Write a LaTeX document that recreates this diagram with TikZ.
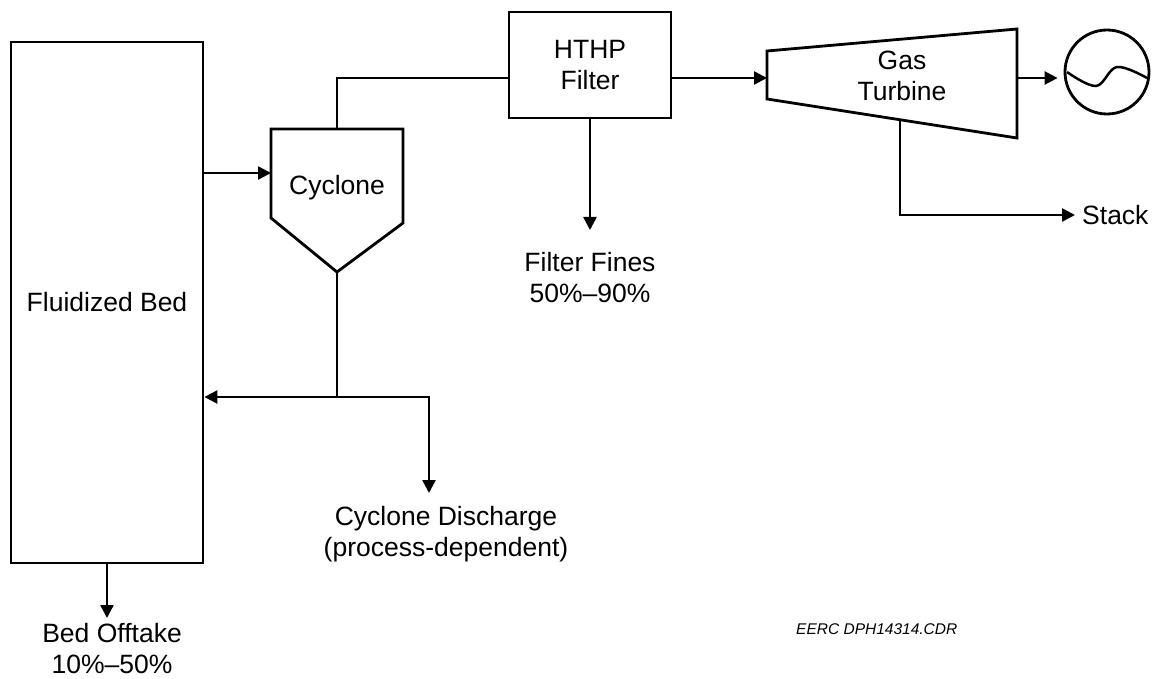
\documentclass[tikz,border=0pt]{standalone}
\usepackage{fontspec}
\setmainfont{Liberation Sans}
\usetikzlibrary{arrows.meta}

\begin{document}
\begin{tikzpicture}[x=1pt,y=-1pt,
    unit/.style={draw,line width=2.8pt,inner sep=0pt,align=center},
    flow/.style={line width=2.5pt,-{Triangle[length=13pt,width=13pt]}},
    pipe/.style={line width=2.5pt},
    lbl/.style={align=center,inner sep=0pt},
    font=\fontsize{26.5}{31}\selectfont]
  \useasboundingbox (0,0) rectangle (1154,679);
  % process units
  \node[unit,minimum width=192pt,minimum height=521pt] (bed) at (107,302.5) {Fluidized Bed};
  \node[unit,minimum width=162pt,minimum height=106pt] (filter) at (590,65) {HTHP\\Filter};
  \draw[line width=2.8pt] (271,129) -- (403,129) -- (403,223) -- (337,272) -- (271,218) -- cycle;
  \node[lbl] (cyclone) at (337,188) {Cyclone};
  \draw[line width=2.8pt] (767,51) -- (1017,29) -- (1017,138) -- (767,99) -- cycle;
  \node[lbl] (turbine) at (902,75.5) {Gas\\Turbine};
  \node[draw,circle,line width=2.8pt,minimum size=84pt,inner sep=0pt] (gen) at (1107,72) {};
  \draw[line width=2.5pt] plot[smooth,tension=0.6] coordinates {(1067,72) (1096,86) (1117,67) (1147,78)};

  \coordinate (cycin) at (271,173);
  \coordinate (cyctop) at (337,129);
  \coordinate (cycbot) at (337,272);
  \coordinate (split) at (337,397);
  \coordinate (disctip) at (429,493);
  \coordinate (turbin) at (767,78);
  \coordinate (turbout) at (1017,78);
  \coordinate (turbbot) at (900,120);
  \coordinate (finestip) at (590,230);
  \coordinate (offtip) at (107,618);

  % labels
  \node[lbl] (fines) at (590,277.5) {Filter Fines\\50\%--90\%};
  \node[lbl] (discharge) at (446,534) {Cyclone Discharge\\(process-dependent)};
  \node[lbl] (offtake) at (112,649) {Bed Offtake\\10\%--50\%};
  \node[lbl,anchor=west] (stack) at (1082,215) {Stack};
  \node[lbl,anchor=west,font=\fontsize{15.5}{18}\selectfont\itshape] (eerc) at (796,629) {EERC DPH14314.CDR};

  % streams
  \draw[flow] (bed.east |- cycin) -- (cycin);
  \draw[pipe] (cyctop) |- (filter.west |- turbin);
  \draw[flow] (filter.east |- turbin) -- (turbin);
  \draw[flow,shorten >=6pt] (turbout) -- (turbout -| gen.west);
  \draw[flow] (filter.south) -- (finestip);
  \draw[flow,shorten >=7pt] (turbbot) |- (stack.west);
  \draw[pipe] (cycbot) -- (split);
  \draw[flow] (split) -- (bed.east |- split);
  \draw[flow] (split) -| (disctip);
  \draw[flow] (bed.south) -- (offtip);
\end{tikzpicture}
\end{document}
